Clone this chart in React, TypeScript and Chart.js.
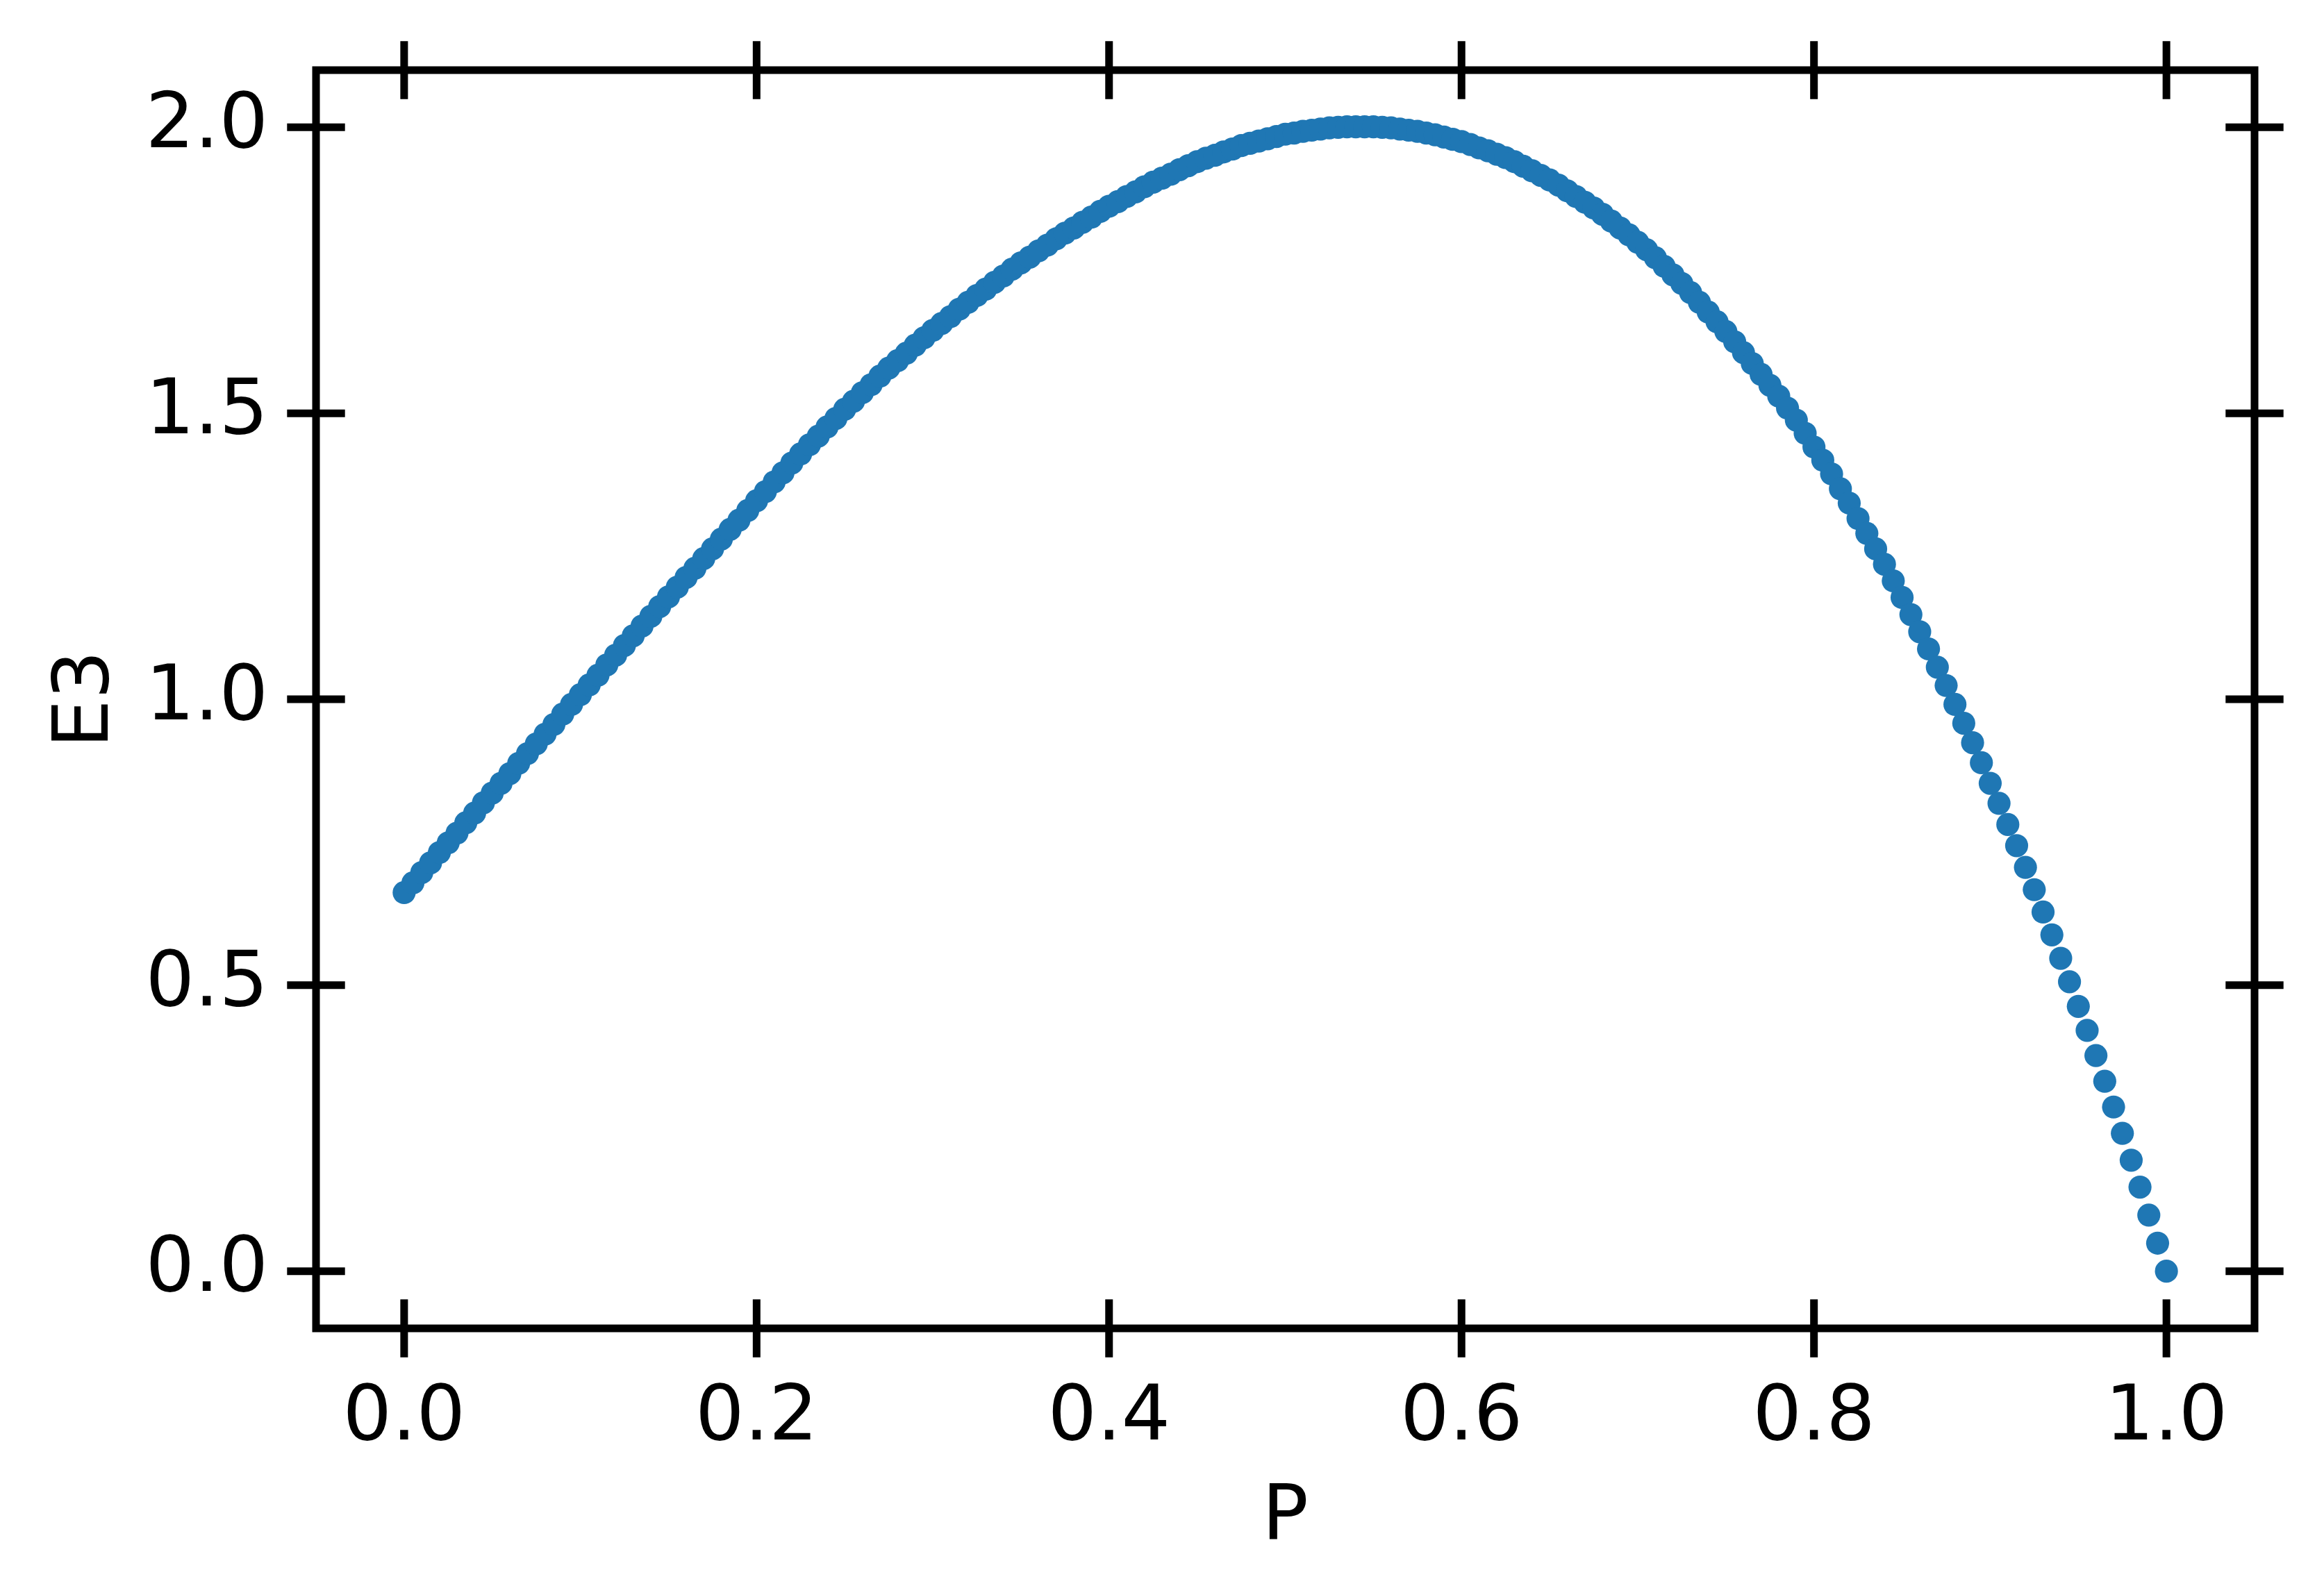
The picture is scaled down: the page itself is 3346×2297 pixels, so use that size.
import React, { useEffect, useRef } from "react";
import { Chart, registerables } from "chart.js";

Chart.register(...registerables);

// P values (x)
const P: number[] = [
  0.000, 0.005, 0.010, 0.015, 0.020, 0.025, 0.030, 0.035, 0.040, 0.045,
  0.050, 0.055, 0.060, 0.065, 0.070, 0.075, 0.080, 0.085, 0.090, 0.095,
  0.100, 0.105, 0.110, 0.115, 0.120, 0.125, 0.130, 0.135, 0.140, 0.145,
  0.150, 0.155, 0.160, 0.165, 0.170, 0.175, 0.180, 0.185, 0.190, 0.195,
  0.200, 0.205, 0.210, 0.215, 0.220, 0.225, 0.230, 0.235, 0.240, 0.245,
  0.250, 0.255, 0.260, 0.265, 0.270, 0.275, 0.280, 0.285, 0.290, 0.295,
  0.300, 0.305, 0.310, 0.315, 0.320, 0.325, 0.330, 0.335, 0.340, 0.345,
  0.350, 0.355, 0.360, 0.365, 0.370, 0.375, 0.380, 0.385, 0.390, 0.395,
  0.400, 0.405, 0.410, 0.415, 0.420, 0.425, 0.430, 0.435, 0.440, 0.445,
  0.450, 0.455, 0.460, 0.465, 0.470, 0.475, 0.480, 0.485, 0.490, 0.495,
  0.500, 0.505, 0.510, 0.515, 0.520, 0.525, 0.530, 0.535, 0.540, 0.545,
  0.550, 0.555, 0.560, 0.565, 0.570, 0.575, 0.580, 0.585, 0.590, 0.595,
  0.600, 0.605, 0.610, 0.615, 0.620, 0.625, 0.630, 0.635, 0.640, 0.645,
  0.650, 0.655, 0.660, 0.665, 0.670, 0.675, 0.680, 0.685, 0.690, 0.695,
  0.700, 0.705, 0.710, 0.715, 0.720, 0.725, 0.730, 0.735, 0.740, 0.745,
  0.750, 0.755, 0.760, 0.765, 0.770, 0.775, 0.780, 0.785, 0.790, 0.795,
  0.800, 0.805, 0.810, 0.815, 0.820, 0.825, 0.830, 0.835, 0.840, 0.845,
  0.850, 0.855, 0.860, 0.865, 0.870, 0.875, 0.880, 0.885, 0.890, 0.895,
  0.900, 0.905, 0.910, 0.915, 0.920, 0.925, 0.930, 0.935, 0.940, 0.945,
  0.950, 0.955, 0.960, 0.965, 0.970, 0.975, 0.980, 0.985, 0.990, 0.995,
  1.000,
];

// E3 values (y)
const E3: number[] = [
  0.662,
  0.679, 0.697, 0.714, 0.732, 0.749,
  0.766, 0.784, 0.801, 0.819, 0.836,
  0.853, 0.870, 0.888, 0.905, 0.922,
  0.939, 0.956, 0.974, 0.991, 1.008,
  1.025, 1.042, 1.060, 1.077, 1.094,
  1.111, 1.128, 1.145, 1.162, 1.179,
  1.196, 1.213, 1.229, 1.246, 1.263,
  1.280, 1.297, 1.313, 1.330, 1.347,
  1.363, 1.380, 1.396, 1.413, 1.429,
  1.445, 1.460, 1.476, 1.491, 1.507,
  1.521, 1.536, 1.550, 1.565, 1.579,
  1.592, 1.605, 1.619, 1.632, 1.645,
  1.657, 1.669, 1.682, 1.694, 1.706,
  1.717, 1.729, 1.740, 1.752, 1.763,
  1.773, 1.784, 1.794, 1.805, 1.815,
  1.824, 1.834, 1.843, 1.853, 1.862,
  1.870, 1.879, 1.887, 1.896, 1.904,
  1.911, 1.918, 1.926, 1.933, 1.940,
  1.946, 1.951, 1.957, 1.962, 1.968,
  1.972, 1.976, 1.980, 1.984, 1.988,
  1.990, 1.993, 1.995, 1.997, 1.999,
  2.000, 2.001, 2.001, 2.001, 2.001,
  2.000, 1.999, 1.997, 1.995, 1.993,
  1.990, 1.987, 1.983, 1.979, 1.975,
  1.970, 1.964, 1.959, 1.953, 1.947,
  1.940, 1.932, 1.924, 1.916, 1.908,
  1.899, 1.889, 1.879, 1.869, 1.859,
  1.848, 1.836, 1.824, 1.812, 1.799,
  1.786, 1.772, 1.757, 1.742, 1.727,
  1.711, 1.694, 1.677, 1.660, 1.643,
  1.625, 1.606, 1.587, 1.568, 1.549,
  1.530, 1.509, 1.488, 1.465, 1.441,
  1.418, 1.394, 1.368, 1.343, 1.316,
  1.290, 1.263, 1.236, 1.207, 1.178,
  1.148, 1.118, 1.088, 1.056, 1.024,
  0.991, 0.958, 0.924, 0.889, 0.853,
  0.818, 0.781, 0.744, 0.706, 0.667,
  0.628, 0.588, 0.547, 0.506, 0.463,
  0.421, 0.377, 0.332, 0.287, 0.241,
  0.194, 0.147, 0.098, 0.049, 0.000,
];

const X_TICKS: number[] = [0.0, 0.2, 0.4, 0.6, 0.8, 1.0];
const Y_TICKS: number[] = [0.0, 0.5, 1.0, 1.5, 2.0];
const X_LABEL = "P";
const Y_LABEL = "E3";

const W = 3346;
const H = 2297;
const FONT = "'DejaVu Sans', 'Liberation Sans', sans-serif";
const POINT_COLOR = "#1f77b4";

const framePlugin = {
  id: "mplFrame",
  afterDraw(chart: any) {
    const { ctx, chartArea, scales } = chart;
    const { left, right, top, bottom } = chartArea;
    const xs = scales.x;
    const ys = scales.y;
    const half = 41.7;
    ctx.save();
    ctx.strokeStyle = "#000";
    ctx.lineCap = "butt";
    ctx.lineWidth = 11;
    ctx.beginPath();
    for (const v of X_TICKS) {
      const px = xs.getPixelForValue(v);
      ctx.moveTo(px, bottom - half);
      ctx.lineTo(px, bottom + half);
      ctx.moveTo(px, top - half);
      ctx.lineTo(px, top + half);
    }
    for (const v of Y_TICKS) {
      const py = ys.getPixelForValue(v);
      ctx.moveTo(left - half, py);
      ctx.lineTo(left + half, py);
      ctx.moveTo(right - half, py);
      ctx.lineTo(right + half, py);
    }
    ctx.stroke();
    ctx.lineJoin = "miter";
    ctx.lineWidth = 11;
    ctx.strokeRect(left, top, right - left, bottom - top);
    ctx.restore();
  },
};

export default function App() {
  const ref = useRef<HTMLCanvasElement | null>(null);

  useEffect(() => {
    document.body.style.margin = "0";
    const canvas = ref.current;
    if (!canvas) return;
    const data = P.map((p, i) => ({ x: p, y: E3[i] }));
    const chart = new Chart(canvas, {
      type: "scatter",
      data: {
        datasets: [
          {
            data,
            backgroundColor: POINT_COLOR,
            borderColor: POINT_COLOR,
            borderWidth: 0,
            pointRadius: 16.6,
            pointHoverRadius: 16.6,
            showLine: false,
          },
        ],
      },
      plugins: [framePlugin],
      options: {
        responsive: false,
        devicePixelRatio: 1,
        animation: false,
        events: [],
        layout: { padding: { top: 101, right: 100, bottom: 0, left: 0 } },
        plugins: {
          legend: { display: false },
          tooltip: { enabled: false },
          title: { display: false },
        },
        scales: {
          x: {
            type: "linear",
            position: "bottom",
            min: -0.05,
            max: 1.05,
            grid: { display: false, drawTicks: false },
            border: { display: false },
            afterBuildTicks: (scale: any) => {
              scale.ticks = X_TICKS.map((v) => ({ value: v }));
            },
            afterFit: (scale: any) => {
              scale.height = H - 1913;
              scale.paddingLeft = 0;
              scale.paddingRight = 0;
            },
            ticks: {
              padding: 65,
              color: "#000",
              font: { family: FONT, size: 111 },
              maxRotation: 0,
              autoSkip: false,
              callback: (v: any) => Number(v).toFixed(1),
            },
            title: {
              display: true,
              text: X_LABEL,
              color: "#000",
              font: { family: FONT, size: 111 },
              padding: { top: 0, bottom: 43 },
            },
          },
          y: {
            type: "linear",
            position: "left",
            min: -0.1,
            max: 2.1,
            grid: { display: false, drawTicks: false },
            border: { display: false },
            afterBuildTicks: (scale: any) => {
              scale.ticks = Y_TICKS.map((v) => ({ value: v }));
            },
            afterFit: (scale: any) => {
              scale.width = 455;
              scale.paddingTop = 0;
              scale.paddingBottom = 0;
            },
            ticks: {
              padding: 69,
              color: "#000",
              font: { family: FONT, size: 111 },
              autoSkip: false,
              callback: (v: any) => Number(v).toFixed(1),
            },
            title: {
              display: true,
              text: Y_LABEL,
              color: "#000",
              font: { family: FONT, size: 111 },
              padding: { top: 60, bottom: 0 },
            },
          },
        },
      },
    });
    return () => chart.destroy();
  }, []);

  return (
    <div style={{ width: W, height: H, background: "#fff" }}>
      <canvas ref={ref} width={W} height={H} style={{ display: "block", width: W, height: H }} />
    </div>
  );
}
